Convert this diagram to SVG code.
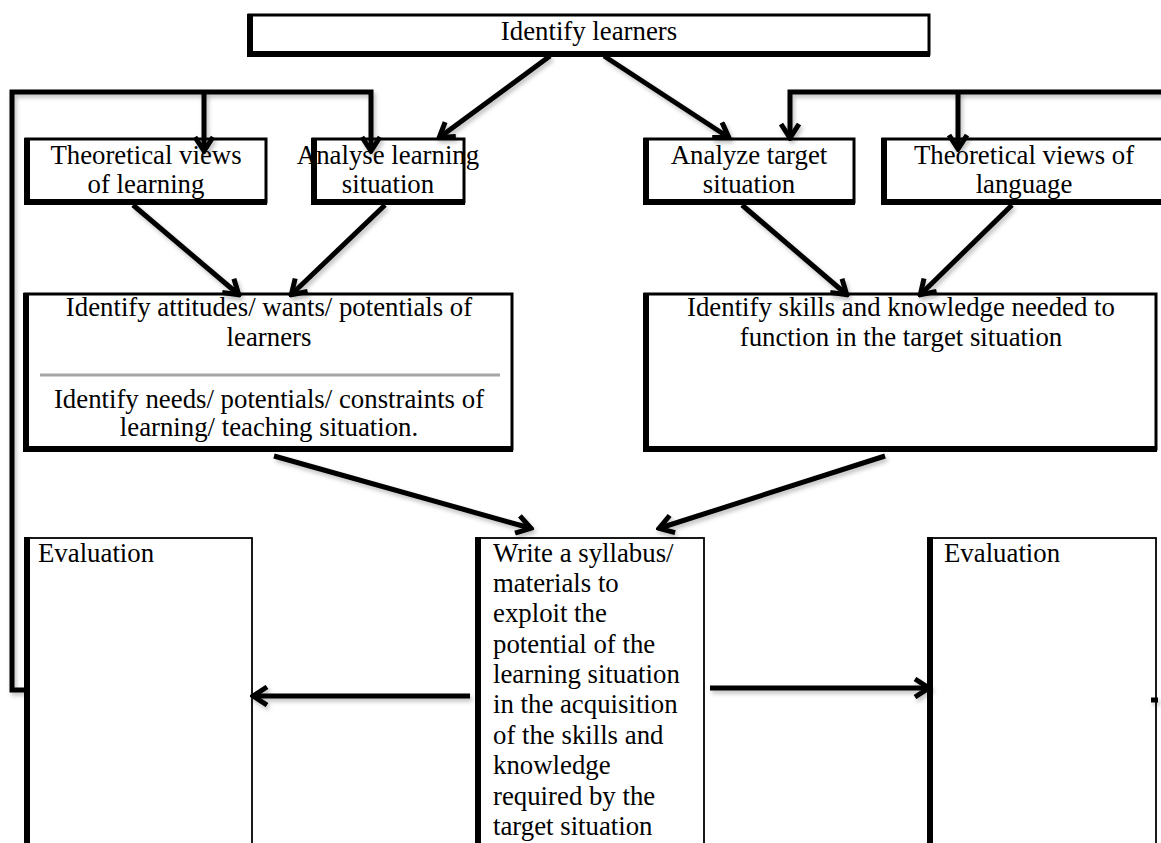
<svg xmlns="http://www.w3.org/2000/svg" width="1161" height="843" viewBox="0 0 1161 843">
<style>
.box{fill:#fff;stroke:#000;stroke-width:3}
.thin{fill:#fff;stroke:#000;stroke-width:1.8}
.edge{fill:none;stroke:#000;stroke-width:6}
.t{font-family:"Liberation Serif","Times New Roman",serif;font-size:26.8px;fill:#000}
.c{text-anchor:middle}
.conn{fill:none;stroke:#000;stroke-width:5;filter:url(#sh)}
</style>
<defs>
<marker id="ah" viewBox="0 0 22 22" refX="18" refY="11" markerWidth="22" markerHeight="22" markerUnits="userSpaceOnUse" orient="auto">
<path d="M5,2 L19,11 L5,20" fill="none" stroke="#000" stroke-width="5" stroke-linejoin="miter"/>
</marker>
<filter id="sh" filterUnits="userSpaceOnUse" x="0" y="0" width="1161" height="843">
<feDropShadow dx="2" dy="3" stdDeviation="2" flood-color="#000" flood-opacity="0.25"/>
</filter>
</defs>

<g id="identify-learners">
<rect class="box" x="249" y="15" width="680" height="39"/>
<path class="edge" d="M250,14 V54 H930"/>
<text class="t c" x="589" y="40">Identify learners</text>
</g>

<g id="theoretical-learning">
<rect class="box" x="26" y="139" width="240" height="63"/>
<path class="edge" d="M27,138 V202 H267"/>
<text class="t c" x="146" y="164">Theoretical views</text>
<text class="t c" x="146" y="193">of learning</text>
</g>

<g id="analyse-learning">
<rect class="box" x="313" y="139" width="151" height="63"/>
<path class="edge" d="M314,138 V202 H465"/>
<text class="t c" x="388" y="164">Analyse learning</text>
<text class="t c" x="388" y="193">situation</text>
</g>

<g id="analyze-target">
<rect class="box" x="645" y="139" width="209" height="63"/>
<path class="edge" d="M646,138 V202 H855"/>
<text class="t c" x="749" y="164">Analyze target</text>
<text class="t c" x="749" y="193">situation</text>
</g>

<g id="theoretical-language">
<rect class="box" x="883" y="139" width="290" height="63"/>
<path class="edge" d="M884,138 V202 H1170"/>
<text class="t c" x="1024" y="164">Theoretical views of</text>
<text class="t c" x="1024" y="193">language</text>
</g>

<g id="identify-attitudes">
<rect class="box" x="25" y="294" width="487" height="155"/>
<path class="edge" d="M26,293 V449 H513"/>
<line x1="40" y1="375" x2="500" y2="375" stroke="#a6a6a6" stroke-width="3"/>
<text class="t c" x="269" y="316">Identify attitudes/ wants/ potentials of</text>
<text class="t c" x="269" y="346">learners</text>
<text class="t c" x="269" y="408">Identify needs/ potentials/ constraints of</text>
<text class="t c" x="269" y="436">learning/ teaching situation.</text>
</g>

<g id="identify-skills">
<rect class="box" x="645" y="294" width="511" height="155"/>
<path class="edge" d="M646,293 V449 H1157"/>
<text class="t c" x="901" y="316">Identify skills and knowledge needed to</text>
<text class="t c" x="901" y="346">function in the target situation</text>
</g>

<g id="evaluation-left">
<rect class="thin" x="27" y="538" width="225" height="320"/>
<path class="edge" d="M27,537 V850"/>
<text class="t" x="38" y="562">Evaluation</text>
</g>

<g id="write-syllabus">
<rect class="thin" x="478" y="538" width="226" height="320"/>
<path class="edge" d="M478,537 V850"/>
<text class="t" x="493" y="562">Write a syllabus/</text>
<text class="t" x="493" y="592">materials to</text>
<text class="t" x="493" y="622">exploit the</text>
<text class="t" x="493" y="653">potential of the</text>
<text class="t" x="493" y="683">learning situation</text>
<text class="t" x="493" y="713">in the acquisition</text>
<text class="t" x="493" y="744">of the skills and</text>
<text class="t" x="493" y="774">knowledge</text>
<text class="t" x="493" y="805">required by the</text>
<text class="t" x="493" y="835">target situation</text>
</g>

<g id="evaluation-right">
<rect class="thin" x="930" y="538" width="226" height="320"/>
<path class="edge" d="M930,537 V850"/>
<text class="t" x="944" y="562">Evaluation</text>
</g>

<g id="connectors">
<path class="conn" d="M24,690 H12 V92 H371 V150" marker-end="url(#ah)"/>
<path class="conn" d="M204,92 V150" marker-end="url(#ah)"/>
<path class="conn" d="M1170,92 H790 V137" marker-end="url(#ah)"/>
<path class="conn" d="M958,92 V148" marker-end="url(#ah)"/>
<path class="conn" d="M550,56 L440,137" marker-end="url(#ah)"/>
<path class="conn" d="M604,56 L728,137" marker-end="url(#ah)"/>
<path class="conn" d="M133,205 L238,294" marker-end="url(#ah)"/>
<path class="conn" d="M385,205 L292,294" marker-end="url(#ah)"/>
<path class="conn" d="M742,205 L846,294" marker-end="url(#ah)"/>
<path class="conn" d="M1012,205 L921,294" marker-end="url(#ah)"/>
<path class="conn" d="M274,456 L530,528" marker-end="url(#ah)"/>
<path class="conn" d="M885,456 L660,528" marker-end="url(#ah)"/>
<path class="conn" d="M470,696 H254" stroke-width="4" marker-end="url(#ah)"/>
<path class="conn" d="M710,688 H928" stroke-width="4" marker-end="url(#ah)"/>
<path class="conn" d="M1151,700 H1158"/>
</g>
</svg>
